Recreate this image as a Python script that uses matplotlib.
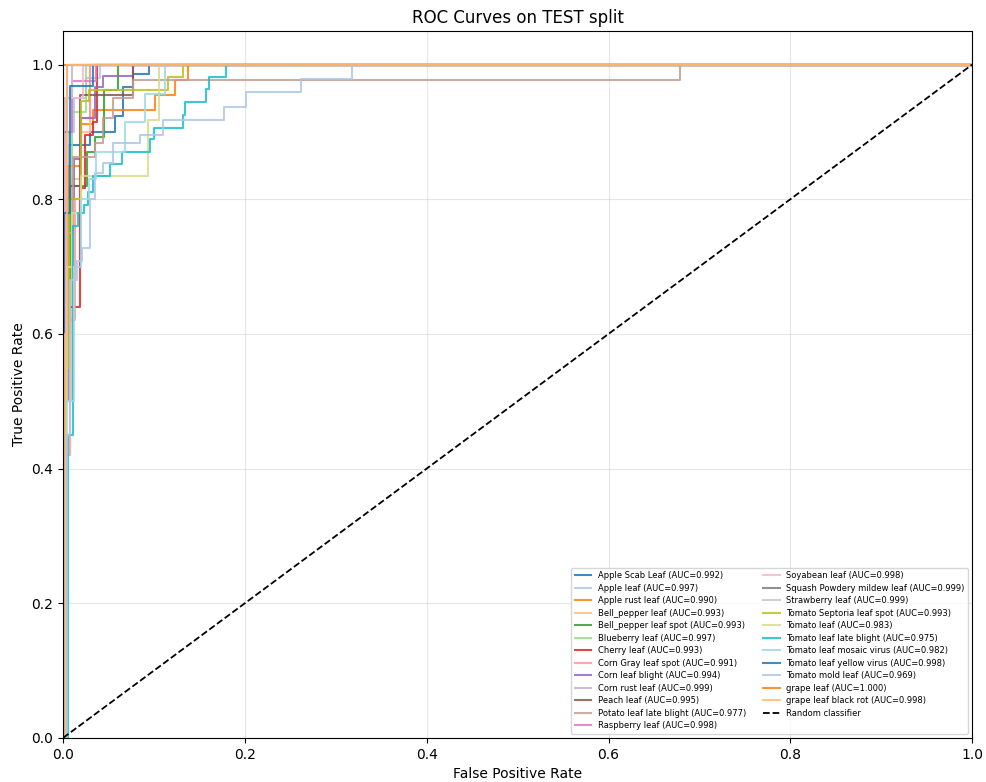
import matplotlib
matplotlib.use("Agg")
import matplotlib.pyplot as plt
import numpy as np

# class names and AUCs as printed in the legend
classes = ["Apple Scab Leaf", "Apple leaf", "Apple rust leaf", "Bell_pepper leaf",
           "Bell_pepper leaf spot", "Blueberry leaf", "Cherry leaf", "Corn Gray leaf spot",
           "Corn leaf blight", "Corn rust leaf", "Peach leaf", "Potato leaf late blight",
           "Raspberry leaf", "Soyabean leaf", "Squash Powdery mildew leaf", "Strawberry leaf",
           "Tomato Septoria leaf spot", "Tomato leaf", "Tomato leaf late blight",
           "Tomato leaf mosaic virus", "Tomato leaf yellow virus", "Tomato mold leaf",
           "grape leaf", "grape leaf black rot"]
aucs = [0.992, 0.997, 0.990, 0.993, 0.993, 0.997, 0.993, 0.991, 0.994, 0.999, 0.995, 0.977,
        0.998, 0.998, 0.999, 0.999, 0.993, 0.983, 0.975, 0.982, 0.998, 0.969, 1.000, 0.998]

# roc points (fpr, tpr)
fpr_apple_scab = [0, 0.002, 0.002, 0.006, 0.006, 0.03, 0.03, 0.057, 0.057, 0.066, 0.066, 0.077, 0.077, 0.094, 0.094, 1]
tpr_apple_scab = [0, 0, 0.72, 0.72, 0.88, 0.88, 0.90, 0.90, 0.924, 0.924, 0.966, 0.966, 0.986, 0.986, 1, 1]
fpr_apple = [0, 0.002, 0.002, 0.006, 0.006, 0.012, 0.012, 0.025, 0.025, 0.04, 0.04, 1]
tpr_apple = [0, 0, 0.8, 0.8, 0.9, 0.9, 0.95, 0.95, 0.98, 0.98, 1, 1]
fpr_apple_rust = [0, 0.002, 0.002, 0.005, 0.005, 0.02, 0.02, 0.033, 0.033, 0.101, 0.101, 0.123, 0.123, 0.137, 0.137, 1]
tpr_apple_rust = [0, 0, 0.6, 0.6, 0.85, 0.85, 0.911, 0.911, 0.932, 0.932, 0.955, 0.955, 0.977, 0.977, 1, 1]
fpr_pepper = [0, 0.003, 0.003, 0.01, 0.01, 0.02, 0.02, 0.03, 0.03, 1]
tpr_pepper = [0, 0, 0.5, 0.5, 0.83, 0.83, 0.9, 0.9, 1, 1]
fpr_pepper_spot = [0, 0.002, 0.002, 0.008, 0.008, 0.026, 0.026, 0.035, 0.035, 0.045, 0.045, 0.06, 0.06, 1]
tpr_pepper_spot = [0, 0, 0.6, 0.6, 0.82, 0.82, 0.87, 0.87, 0.893, 0.893, 0.962, 0.962, 1, 1]
fpr_blueberry = [0, 0.002, 0.002, 0.01, 0.01, 0.025, 0.025, 1]
tpr_blueberry = [0, 0, 0.75, 0.75, 0.93, 0.93, 1, 1]
fpr_cherry = [0, 0.003, 0.003, 0.019, 0.019, 0.024, 0.024, 0.033, 0.033, 0.037, 0.037, 1]
tpr_cherry = [0, 0, 0.64, 0.64, 0.817, 0.817, 0.896, 0.896, 0.914, 0.914, 1, 1]
fpr_corn_gray = [0, 0.004, 0.004, 0.008, 0.008, 0.013, 0.013, 0.02, 0.02, 0.03, 0.03, 1]
tpr_corn_gray = [0, 0, 0.42, 0.42, 0.62, 0.62, 0.80, 0.80, 0.92, 0.92, 1, 1]
fpr_corn_blight = [0, 0.002, 0.002, 0.005, 0.005, 0.012, 0.012, 0.02, 0.02, 0.035, 0.035, 0.044, 0.044, 0.077, 0.077, 1]
tpr_corn_blight = [0, 0, 0.5, 0.5, 0.8, 0.8, 0.86, 0.86, 0.92, 0.92, 0.966, 0.966, 0.983, 0.983, 1, 1]
fpr_corn_rust = [0, 0.001, 0.001, 0.01, 0.01, 1]
tpr_corn_rust = [0, 0, 0.9, 0.9, 1, 1]
fpr_peach = [0, 0.002, 0.002, 0.008, 0.008, 0.018, 0.018, 0.077, 0.077, 1]
tpr_peach = [0, 0, 0.8, 0.8, 0.82, 0.82, 0.955, 0.955, 1, 1]
fpr_potato = [0, 0.003, 0.003, 0.011, 0.011, 0.035, 0.035, 0.044, 0.044, 0.055, 0.055, 0.077, 0.077, 0.679, 0.679, 1]
tpr_potato = [0, 0, 0.75, 0.75, 0.862, 0.862, 0.884, 0.884, 0.92, 0.92, 0.951, 0.951, 0.977, 0.977, 1, 1]
fpr_raspberry = [0, 0.003, 0.003, 0.01, 0.01, 0.036, 0.036, 1]
tpr_raspberry = [0, 0, 0.9, 0.9, 0.976, 0.976, 1, 1]
fpr_soyabean = [0, 0.002, 0.002, 0.022, 0.022, 1]
tpr_soyabean = [0, 0, 0.95, 0.95, 1, 1]
fpr_squash = [0, 0, 0.004, 0.004, 1]
tpr_squash = [0, 0.9, 0.9, 1, 1]
fpr_strawberry = [0, 0.001, 0.001, 0.0095, 0.0095, 1]
tpr_strawberry = [0, 0, 0.95, 0.95, 1, 1]
fpr_septoria = [0, 0.002, 0.002, 0.006, 0.006, 0.02, 0.02, 0.028, 0.028, 0.115, 0.115, 0.132, 0.132, 1]
tpr_septoria = [0, 0, 0.55, 0.55, 0.80, 0.80, 0.946, 0.946, 0.962, 0.962, 0.981, 0.981, 1, 1]
fpr_tomato = [0, 0.004, 0.004, 0.01, 0.01, 0.02, 0.02, 0.093, 0.093, 0.105, 0.105, 1]
tpr_tomato = [0, 0, 0.7, 0.7, 0.78, 0.78, 0.834, 0.834, 0.917, 0.917, 1, 1]
fpr_late_blight = [0, 0.005, 0.005, 0.0103, 0.0103, 0.016, 0.016, 0.0224, 0.0224, 0.027, 0.027, 0.033, 0.033,
                   0.0517, 0.0517, 0.0646, 0.0646, 0.0957, 0.0957, 0.0994, 0.0994, 0.1317, 0.1317, 0.134,
                   0.134, 0.157, 0.157, 0.1606, 0.1606, 0.1793, 0.1793, 1]
tpr_late_blight = [0, 0, 0.45, 0.45, 0.76, 0.76, 0.78, 0.78, 0.792, 0.792, 0.81, 0.81, 0.834, 0.834, 0.852,
                   0.852, 0.870, 0.870, 0.889, 0.889, 0.906, 0.906, 0.925, 0.925, 0.944, 0.944, 0.963, 0.963,
                   0.982, 0.982, 1, 1]
fpr_mosaic = [0, 0.003, 0.003, 0.012, 0.012, 0.02, 0.02, 0.028, 0.028, 0.036, 0.036, 0.068, 0.068, 0.09, 0.09, 0.112, 0.112, 1]
tpr_mosaic = [0, 0, 0.5, 0.5, 0.70, 0.70, 0.80, 0.80, 0.83, 0.83, 0.87, 0.87, 0.914, 0.914, 0.956, 0.956, 1, 1]
fpr_yellow = [0, 0.001, 0.001, 0.008, 0.008, 0.033, 0.033, 1]
tpr_yellow = [0, 0, 0.78, 0.78, 0.968, 0.968, 1, 1]
fpr_mold = [0, 0.004, 0.004, 0.008, 0.008, 0.015, 0.015, 0.0205, 0.0205, 0.03, 0.03, 0.035, 0.035, 0.044, 0.044,
            0.055, 0.055, 0.085, 0.085, 0.11, 0.11, 0.177, 0.177, 0.201, 0.201, 0.2615, 0.2615, 0.3176, 0.3176, 1]
tpr_mold = [0, 0, 0.45, 0.45, 0.68, 0.68, 0.708, 0.708, 0.728, 0.728, 0.80, 0.80, 0.839, 0.839, 0.854, 0.854,
            0.884, 0.884, 0.896, 0.896, 0.917, 0.917, 0.937, 0.937, 0.959, 0.959, 0.978, 0.978, 1, 1]
fpr_grape = [0, 0, 1]
tpr_grape = [0, 1, 1]
fpr_black_rot = [0, 0.002, 0.002, 0.004, 0.004, 1]
tpr_black_rot = [0, 0, 0.6, 0.6, 1, 1]

fprs = [fpr_apple_scab, fpr_apple, fpr_apple_rust, fpr_pepper, fpr_pepper_spot, fpr_blueberry,
        fpr_cherry, fpr_corn_gray, fpr_corn_blight, fpr_corn_rust, fpr_peach, fpr_potato,
        fpr_raspberry, fpr_soyabean, fpr_squash, fpr_strawberry, fpr_septoria, fpr_tomato,
        fpr_late_blight, fpr_mosaic, fpr_yellow, fpr_mold, fpr_grape, fpr_black_rot]
tprs = [tpr_apple_scab, tpr_apple, tpr_apple_rust, tpr_pepper, tpr_pepper_spot, tpr_blueberry,
        tpr_cherry, tpr_corn_gray, tpr_corn_blight, tpr_corn_rust, tpr_peach, tpr_potato,
        tpr_raspberry, tpr_soyabean, tpr_squash, tpr_strawberry, tpr_septoria, tpr_tomato,
        tpr_late_blight, tpr_mosaic, tpr_yellow, tpr_mold, tpr_grape, tpr_black_rot]

fig = plt.figure(figsize=(9.87, 7.82), dpi=100)
ax = fig.add_axes([0.064, 0.0565, 0.921, 0.904])

cmap = plt.cm.tab20
for i, name in enumerate(classes):
    ax.plot(fprs[i], tprs[i], color=cmap(i % 20), lw=1.5, alpha=0.85,
            label=f"{name} (AUC={aucs[i]:.3f})")

ax.plot([0, 1], [0, 1], "k--", lw=1.3, label="Random classifier")

ax.set_xlim(0, 1)
ax.set_ylim(0, 1.05)
ax.set_xlabel("False Positive Rate")
ax.set_ylabel("True Positive Rate")
ax.set_title("ROC Curves on TEST split")
ax.grid(alpha=0.3)
ax.legend(loc="lower right", fontsize=6, ncol=2, labelspacing=0.42)

fig.savefig("out.png", dpi=100)
